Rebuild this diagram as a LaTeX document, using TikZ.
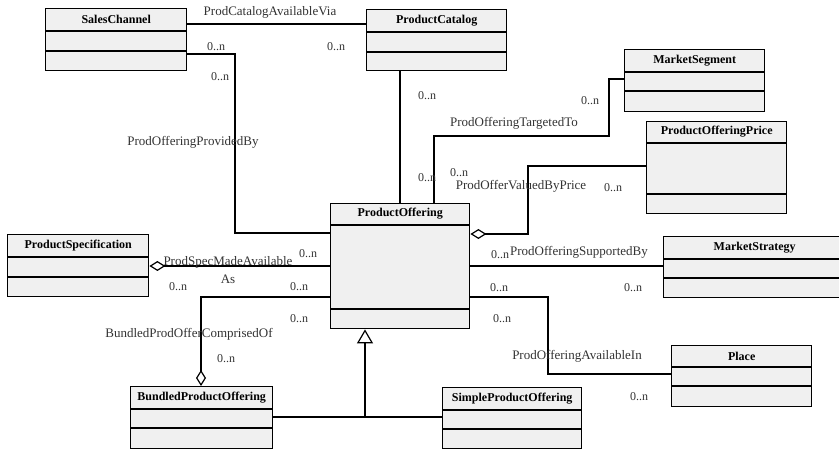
\documentclass[tikz,border=0pt]{standalone}
\usepackage{fontspec}
\setmainfont{Liberation Serif}
\usetikzlibrary{arrows.meta, calc}

\begin{document}
\begin{tikzpicture}[x=1pt, y=-1pt,
    cls/.style={draw, line width=1.4pt, fill=gray!12, inner sep=0pt, anchor=north west},
    ttl/.style={font=\fontsize{12}{14}\selectfont\bfseries, inner sep=0pt},
    assoc/.style={line width=1.2pt},
    lbl/.style={font=\fontsize{13}{18}\selectfont, text=black!80, inner sep=0pt, align=center},
    mult/.style={font=\fontsize{12}{14}\selectfont, text=black!80, inner sep=0pt},
    agg/.tip={Diamond[open, length=16pt, width=10pt]},
    gen/.tip={Triangle[open, length=14pt, width=16pt]}]
            \useasboundingbox (0,0) rectangle (839,449);
            \fill[white] (0,0) rectangle (839,449);

            % classes: name/title/left/top/width/height/header/middle
            \foreach \nm/\ttl/\bx/\by/\bw/\bh/\ha/\hb in {
                sc/SalesChannel/45/8/141/62/23/43,
                cat/ProductCatalog/366/9/140/61/23/43,
                seg/MarketSegment/624/49/140/62/23/42,
                price/ProductOfferingPrice/646/121/140/92/22/73,
                po/ProductOffering/330/203/139/125/22/106,
                spec/ProductSpecification/7/234/141/62/23/43,
                strat/MarketStrategy/663/236/182/61/23/42,
                place/Place/671/345/140/61/22/41,
                bun/BundledProductOffering/130/386/142/62/23/42,
                spo/SimpleProductOffering/442/387/139/61/23/42} {
                \node[cls, minimum width=\bw pt, minimum height=\bh pt] (\nm) at (\bx,\by) {};
                \draw[line width=1.4pt] ([yshift=-\ha pt]\nm.north west) -- ([yshift=-\ha pt]\nm.north east);
                \draw[line width=1.4pt] ([yshift=-\hb pt]\nm.north west) -- ([yshift=-\hb pt]\nm.north east);
                \node[ttl] (\nm-t) at ($(\nm.north)+(0,\ha/2)$) {\ttl};
            }

            % associations
            \draw[assoc] ([yshift=-16pt]sc.north east) -- ([yshift=-16pt]sc.north east -| cat.west);
            \draw[assoc] ([yshift=-46pt]sc.north east) -| (235,233) -- ([yshift=-30pt]po.north west);
            \draw[assoc] ([xshift=34pt]cat.south west) -- ([xshift=34pt]cat.south west |- po.north);
            \draw[assoc] ([yshift=-30pt]seg.north west) -| (609,136) -| ([xshift=104pt]po.north west);
            \draw[assoc, agg-] ([yshift=-31pt]po.north east) -| (528,166) -- ([yshift=-45pt]price.north west);
            \draw[assoc, agg-] ([yshift=-32pt]spec.north east) -- ([yshift=-32pt]spec.north east -| po.west);
            \draw[assoc, -agg] ([yshift=-94pt]po.north west) -| ([xshift=71pt]bun.north west);
            \draw[assoc] ([yshift=-63pt]po.north east) -- ([yshift=-63pt]po.north east -| strat.west);
            \draw[assoc] ([yshift=-94pt]po.north east) -| (548,374) -- ([yshift=-29pt]place.north west);

            % generalization
            \coordinate (gj) at (365,417);
            \draw[assoc] ([yshift=-31pt]bun.north east) -- ([yshift=-31pt]bun.north east -| spo.west);
            \draw[assoc, -gen] (gj) -- (gj |- po.south);

            % association names
            \foreach \lx/\ly/\lt [count=\i] in {
                270/12/ProdCatalogAvailableVia,
                193/142/ProdOfferingProvidedBy,
                514/123/ProdOfferingTargetedTo,
                521/186/ProdOfferValuedByPrice,
                189/334/BundledProdOfferComprisedOf,
                579/252/ProdOfferingSupportedBy,
                577/356/ProdOfferingAvailableIn} {
                \node[lbl] (a\i) at (\lx,\ly) {\lt};
            }
            \node[lbl] (aspec) at (228,270) {ProdSpecMadeAvailable\\As};

            % multiplicities
            \foreach \mx/\my [count=\i] in {216/47, 336/47, 220/77, 427/96, 427/178, 590/101,
                459/173, 613/188, 308/254, 178/287, 299/287, 299/319, 226/359,
                500/255, 633/288, 499/288, 502/319, 639/397} {
                \node[mult] (m\i) at (\mx,\my) {0..n};
            }
        \end{tikzpicture}
\end{document}
